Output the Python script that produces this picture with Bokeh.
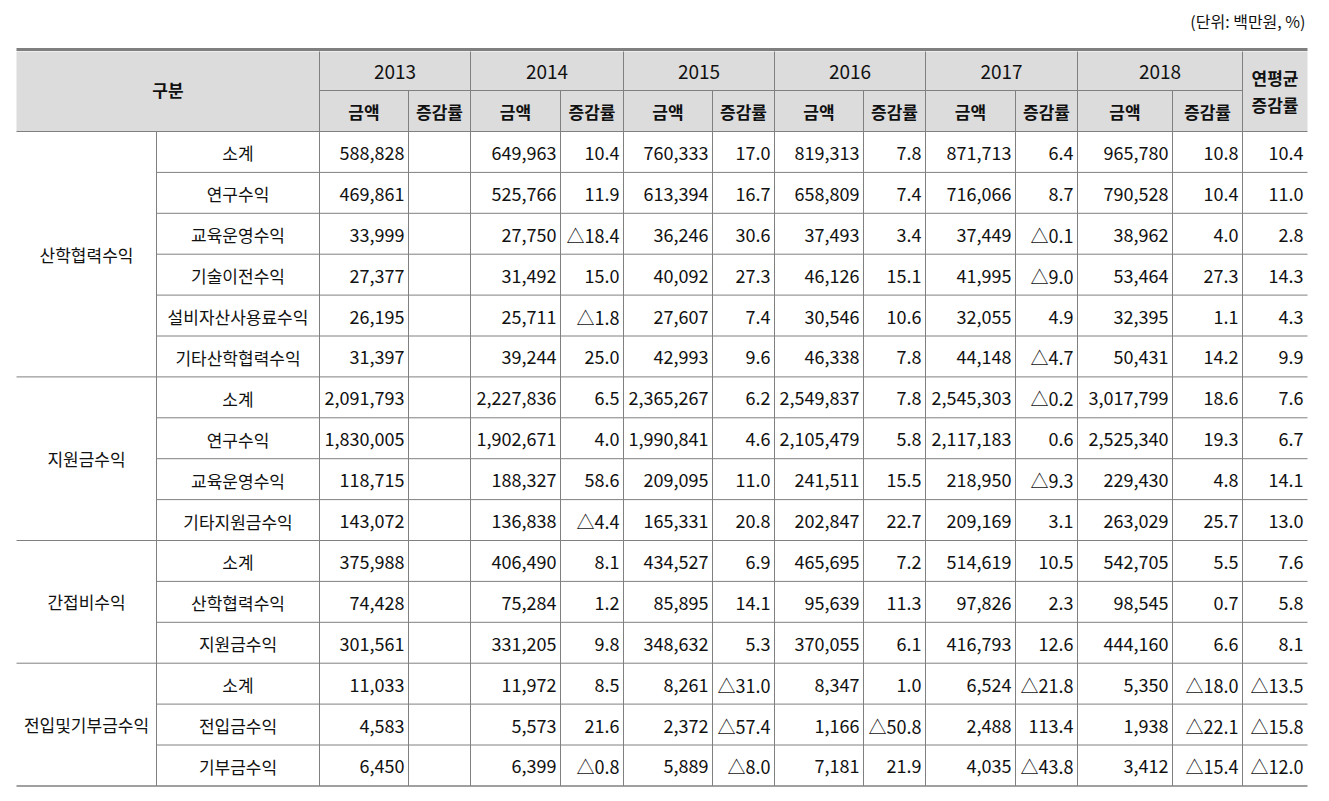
from bokeh.plotting import figure
from bokeh.models import Range1d, ColumnDataSource
from bokeh.core.properties import value
from bokeh.embed import file_html
from bokeh.resources import INLINE

# ---------------- data ----------------
unit_note = "(단위: 백만원, %)"
header_title = "구분"
years = ["2013", "2014", "2015", "2016", "2017", "2018"]
sub_amount = "금액"
sub_rate = "증감률"
cagr_label = ["연평균", "증감률"]

groups = ["산학협력수익", "지원금수익", "간접비수익", "전입및기부금수익"]
group_sizes = [6, 4, 3, 3]
items = ["소계", "연구수익", "교육운영수익", "기술이전수익", "설비자산사용료수익", "기타산학협력수익",
         "소계", "연구수익", "교육운영수익", "기타지원금수익",
         "소계", "산학협력수익", "지원금수익",
         "소계", "전입금수익", "기부금수익"]

amt_2013 = [588828, 469861, 33999, 27377, 26195, 31397,
            2091793, 1830005, 118715, 143072,
            375988, 74428, 301561,
            11033, 4583, 6450]
amt_2014 = [649963, 525766, 27750, 31492, 25711, 39244,
            2227836, 1902671, 188327, 136838,
            406490, 75284, 331205,
            11972, 5573, 6399]
rate_2014 = [10.4, 11.9, -18.4, 15.0, -1.8, 25.0,
             6.5, 4.0, 58.6, -4.4,
             8.1, 1.2, 9.8,
             8.5, 21.6, -0.8]
amt_2015 = [760333, 613394, 36246, 40092, 27607, 42993,
            2365267, 1990841, 209095, 165331,
            434527, 85895, 348632,
            8261, 2372, 5889]
rate_2015 = [17.0, 16.7, 30.6, 27.3, 7.4, 9.6,
             6.2, 4.6, 11.0, 20.8,
             6.9, 14.1, 5.3,
             -31.0, -57.4, -8.0]
amt_2016 = [819313, 658809, 37493, 46126, 30546, 46338,
            2549837, 2105479, 241511, 202847,
            465695, 95639, 370055,
            8347, 1166, 7181]
rate_2016 = [7.8, 7.4, 3.4, 15.1, 10.6, 7.8,
             7.8, 5.8, 15.5, 22.7,
             7.2, 11.3, 6.1,
             1.0, -50.8, 21.9]
amt_2017 = [871713, 716066, 37449, 41995, 32055, 44148,
            2545303, 2117183, 218950, 209169,
            514619, 97826, 416793,
            6524, 2488, 4035]
rate_2017 = [6.4, 8.7, -0.1, -9.0, 4.9, -4.7,
             -0.2, 0.6, -9.3, 3.1,
             10.5, 2.3, 12.6,
             -21.8, 113.4, -43.8]
amt_2018 = [965780, 790528, 38962, 53464, 32395, 50431,
            3017799, 2525340, 229430, 263029,
            542705, 98545, 444160,
            5350, 1938, 3412]
rate_2018 = [10.8, 10.4, 4.0, 27.3, 1.1, 14.2,
             18.6, 19.3, 4.8, 25.7,
             5.5, 0.7, 6.6,
             -18.0, -22.1, -15.4]
cagr = [10.4, 11.0, 2.8, 14.3, 4.3, 9.9,
        7.6, 6.7, 14.1, 13.0,
        7.6, 5.8, 8.1,
        -13.5, -15.8, -12.0]

# ---------------- layout (pixels) ----------------
W, H = 1313, 790
col_x = [16, 156, 319, 408, 470, 560, 623, 712, 774, 863, 925, 1015, 1077, 1172, 1242, 1307]
top_y = 49
year_y0, year_y1, sub_y1 = 51, 90, 131
row_h = 40.9
n_rows = len(items)
row_y = [sub_y1 + i * row_h for i in range(n_rows + 1)]

FONT = value("Noto Sans CJK KR")
LINE = "#808080"
TXT = "#111111"

p = figure(width=W, height=H, output_backend="svg", toolbar_location=None,
           x_range=Range1d(0, W), y_range=Range1d(H, 0),
           min_border=0, outline_line_color=None)
p.axis.visible = False
p.grid.visible = False
p.background_fill_color = "white"
p.border_fill_color = "white"

# header background
p.quad(left=[col_x[0]], right=[col_x[-1]], top=[year_y0], bottom=[sub_y1],
       fill_color="#dcdcdc", line_color=None)

# lines
xs0, xs1, ys0, ys1 = [], [], [], []
def seg(x0, y0, x1, y1):
    xs0.append(x0); ys0.append(y0); xs1.append(x1); ys1.append(y1)

# header lines
seg(col_x[2], year_y1, col_x[14], year_y1)
seg(col_x[0], sub_y1, col_x[-1], sub_y1)
for k in [2, 4, 6, 8, 10, 12, 14]:
    seg(col_x[k], year_y0, col_x[k], sub_y1)
for k in [3, 5, 7, 9, 11, 13]:
    seg(col_x[k], year_y1, col_x[k], sub_y1)
# body vertical lines
for k in range(1, 15):
    seg(col_x[k], sub_y1, col_x[k], row_y[-1])
# body horizontal lines
group_start = []
acc = 0
for s in group_sizes:
    group_start.append(acc)
    acc += s
for i in range(1, n_rows):
    x0 = col_x[0] if i in group_start else col_x[1]
    seg(x0, row_y[i], col_x[-1], row_y[i])
p.segment(x0=xs0, y0=ys0, x1=xs1, y1=ys1, line_color=LINE, line_width=1)
# top thick and bottom line
p.segment(x0=[col_x[0]], y0=[top_y], x1=[col_x[-1]], y1=[top_y], line_color="#7f7f7f", line_width=3)
p.segment(x0=[col_x[0]], y0=[row_y[-1]], x1=[col_x[-1]], y1=[row_y[-1]], line_color=LINE, line_width=1.5)

# unit note
p.text(x=[1305], y=[20], text=[unit_note], text_font=FONT, text_font_size="16px",
       text_align="right", text_baseline="middle", text_color=TXT)

# header texts
hx, hy, ht = [], [], []
hx.append((col_x[0] + col_x[2]) / 2); hy.append((year_y0 + sub_y1) / 2 - 2); ht.append(header_title)
for j in range(6):
    xa, xb = col_x[2 + 2 * j], col_x[3 + 2 * j]
    xc = col_x[4 + 2 * j]
    hx.append((xa + xb) / 2); hy.append((year_y1 + sub_y1) / 2); ht.append(sub_amount)
    hx.append((xb + xc) / 2); hy.append((year_y1 + sub_y1) / 2); ht.append(sub_rate)
hx.append((col_x[14] + col_x[15]) / 2); hy.append(77); ht.append(cagr_label[0])
hx.append((col_x[14] + col_x[15]) / 2); hy.append(104); ht.append(cagr_label[1])
p.text(x=hx, y=hy, text=ht, text_font=FONT, text_font_size="17px", text_font_style="bold",
       text_align="center", text_baseline="middle", text_color=TXT)

yx = [(col_x[2 + 2 * j] + col_x[4 + 2 * j]) / 2 for j in range(6)]
p.text(x=yx, y=[(year_y0 + year_y1) / 2 + 1] * 6, text=years, text_font=FONT, text_font_size="19px",
       text_align="center", text_baseline="middle", text_color=TXT)

# group labels
gx, gy = [], []
for gi, s in enumerate(group_sizes):
    a = group_start[gi]
    gx.append((col_x[0] + col_x[1]) / 2)
    gy.append((row_y[a] + row_y[a + s]) / 2)
p.text(x=gx, y=gy, text=groups, text_font=FONT, text_font_size="17px",
       text_align="center", text_baseline="middle", text_color=TXT)

rc = [(row_y[i] + row_y[i + 1]) / 2 + 1 for i in range(n_rows)]
p.text(x=[(col_x[1] + col_x[2]) / 2] * n_rows, y=rc, text=items, text_font=FONT,
       text_font_size="17px", text_align="center", text_baseline="middle", text_color=TXT)

def fmt_amt(v):
    return f"{v:,}"

def fmt_rate(v):
    if v is None:
        return ""
    return ("△" + f"{abs(v):.1f}") if v < 0 else f"{v:.1f}"

amount_cols = [amt_2013, amt_2014, amt_2015, amt_2016, amt_2017, amt_2018]
rate_cols = [None, rate_2014, rate_2015, rate_2016, rate_2017, rate_2018]

tx, ty, tt = [], [], []
for j in range(6):
    right_a = col_x[3 + 2 * j] - 4
    right_r = col_x[4 + 2 * j] - 4
    for i in range(n_rows):
        tx.append(right_a); ty.append(rc[i]); tt.append(fmt_amt(amount_cols[j][i]))
        if rate_cols[j] is not None:
            tx.append(right_r); ty.append(rc[i]); tt.append(fmt_rate(rate_cols[j][i]))
for i in range(n_rows):
    tx.append(col_x[15] - 4); ty.append(rc[i]); tt.append(fmt_rate(cagr[i]))
src = ColumnDataSource(dict(x=tx, y=ty, t=tt))
p.text(x="x", y="y", text="t", source=src, text_font=FONT, text_font_size="18px",
       text_align="right", text_baseline="middle", text_color=TXT)

open("out.html", "w").write(file_html(p, INLINE))
